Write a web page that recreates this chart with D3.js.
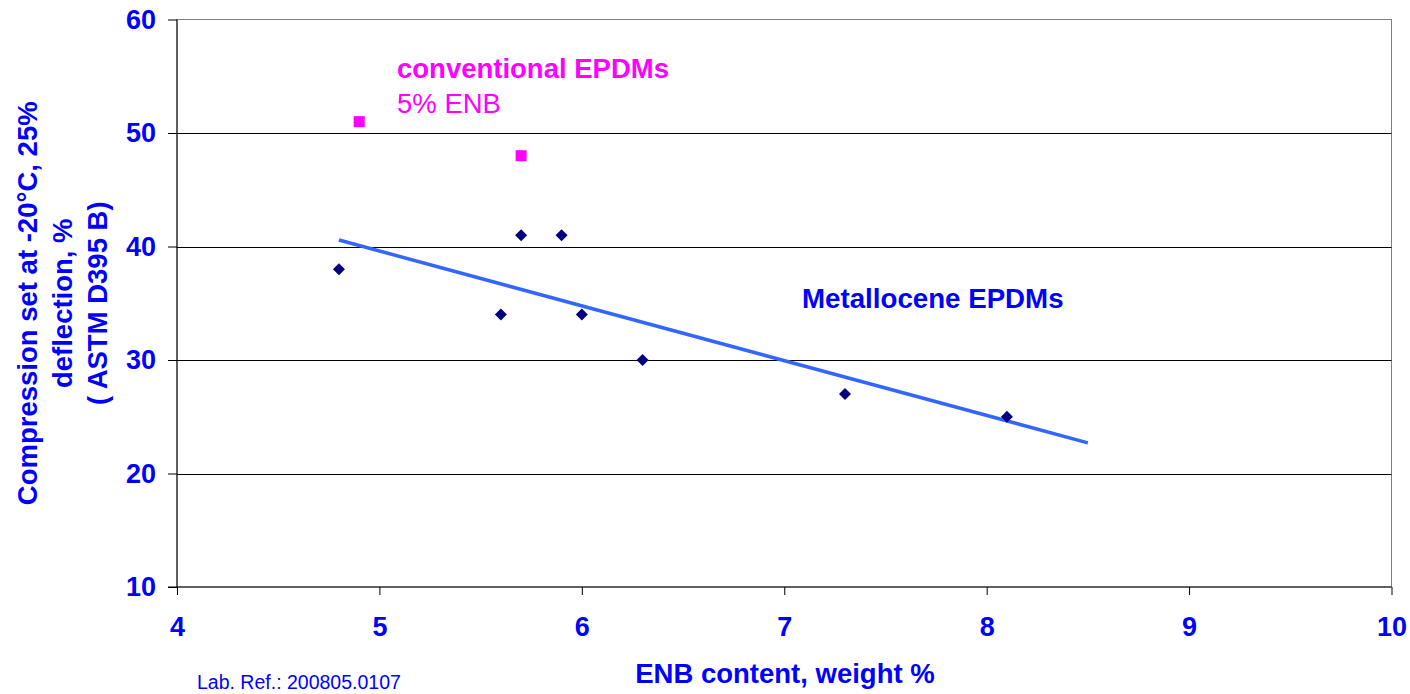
<!DOCTYPE html>
<html>
<head>
<meta charset="utf-8">
<script src="https://cdn.jsdelivr.net/npm/d3@7"></script>
<style>
  html, body { margin: 0; padding: 0; background: #fff; }
  svg { display: block; font-family: "Liberation Sans", Arial, sans-serif; }
</style>
</head>
<body>
<svg id="chart" width="1410" height="694"></svg>
<script>
// ---- data ----
const metalloceneX = [4.8, 5.6, 5.7, 5.9, 6.0, 6.3, 7.3, 8.1];
const metalloceneY = [38, 34, 41, 41, 34, 30, 27, 25];
const conventionalX = [4.9, 5.7];
const conventionalY = [51, 48];
const trendX = [4.8, 8.5];
const trendY = [40.57, 22.70];
const xTicks = [4, 5, 6, 7, 8, 9, 10];
const yTicks = [10, 20, 30, 40, 50, 60];
const yTitleLines = ["Compression set at -20°C, 25%", "deflection, %", "( ASTM D395 B)"];
const xTitle = "ENB content, weight %";
const labRef = "Lab. Ref.: 200805.0107";
const noteConv1 = "conventional EPDMs";
const noteConv2 = "5% ENB";
const noteMet = "Metallocene EPDMs";

// ---- layout ----
const svg = d3.select("#chart");
const pLeft = 177, pRight = 1391.5, pTop = 19.5, pBottom = 587;
const x = d3.scaleLinear().domain([4, 10]).range([pLeft, pRight]);
const y = d3.scaleLinear().domain([10, 60]).range([pBottom, pTop]);
const blue = "#0000FF", navy = "#000080", magenta = "#FF00FF", trendColor = "#3366FF";

// plot border (gray top/right)
svg.append("rect")
  .attr("x", pLeft).attr("y", pTop)
  .attr("width", pRight - pLeft).attr("height", pBottom - pTop)
  .attr("fill", "none").attr("stroke", "#808080").attr("stroke-width", 1);

// gridlines
svg.append("g").selectAll("line")
  .data(yTicks.filter(d => d > 10 && d < 60))
  .join("line")
  .attr("x1", pLeft).attr("x2", pRight)
  .attr("y1", d => Math.round(y(d)) + 0.5).attr("y2", d => Math.round(y(d)) + 0.5)
  .attr("stroke", "#000").attr("stroke-width", 1);

// axes
const yAxis = d3.axisLeft(y).tickValues(yTicks).tickSize(9).tickPadding(12).tickFormat(d3.format("d"));
const gy = svg.append("g").attr("transform", `translate(${pLeft},0)`).call(yAxis);
const xAxis = d3.axisBottom(x).tickValues(xTicks).tickSize(8).tickPadding(22).tickFormat(d3.format("d"));
const gx = svg.append("g").attr("transform", `translate(0,${pBottom})`).call(xAxis);
[gx, gy].forEach(g => {
  g.select(".domain").attr("stroke", "#000").attr("stroke-width", 1);
  g.selectAll(".tick line").attr("stroke", "#000");
  g.selectAll(".tick text")
    .attr("fill", blue).attr("font-size", 27).attr("font-weight", "bold")
    .attr("font-family", "Liberation Sans, Arial, sans-serif");
});
gy.select(".domain").attr("d", `M0,${pTop}V${pBottom}`);
gx.select(".domain").attr("d", `M${pLeft - 9},0H${pRight}`);

// trend line
svg.append("path")
  .datum(trendX.map((d, i) => [d, trendY[i]]))
  .attr("d", d3.line().x(d => x(d[0])).y(d => y(d[1])))
  .attr("fill", "none").attr("stroke", trendColor).attr("stroke-width", 3.5);

// metallocene diamonds
const dsz = 6;
svg.append("g").selectAll("path")
  .data(metalloceneX.map((d, i) => [d, metalloceneY[i]]))
  .join("path")
  .attr("d", d => `M${x(d[0])},${y(d[1]) - dsz}L${x(d[0]) + dsz},${y(d[1])}L${x(d[0])},${y(d[1]) + dsz}L${x(d[0]) - dsz},${y(d[1])}Z`)
  .attr("fill", navy);

// conventional squares
const ssz = 11;
svg.append("g").selectAll("rect")
  .data(conventionalX.map((d, i) => [d, conventionalY[i]]))
  .join("rect")
  .attr("x", d => x(d[0]) - ssz / 2).attr("y", d => y(d[1]) - ssz / 2)
  .attr("width", ssz).attr("height", ssz)
  .attr("fill", magenta);

// annotations
svg.append("text").attr("x", 397).attr("y", 78)
  .attr("fill", magenta).attr("font-size", 27.5).attr("font-weight", "bold").text(noteConv1);
svg.append("text").attr("x", 397).attr("y", 113)
  .attr("fill", magenta).attr("font-size", 27.5).text(noteConv2);
svg.append("text").attr("x", 802).attr("y", 308)
  .attr("fill", blue).attr("font-size", 27.7).attr("font-weight", "bold").text(noteMet);

// x title
svg.append("text").attr("x", (633 + 937) / 2).attr("y", 683)
  .attr("text-anchor", "middle").attr("fill", blue)
  .attr("font-size", 27.5).attr("font-weight", "bold").text(xTitle);

// y title
const yt = svg.append("text")
  .attr("transform", `translate(37,${(pTop + pBottom) / 2}) rotate(-90)`)
  .attr("text-anchor", "middle").attr("fill", blue)
  .attr("font-size", 27.5).attr("font-weight", "bold");
yTitleLines.forEach((t, i) => {
  yt.append("tspan").attr("x", 0).attr("y", i * 35).text(t);
});

// lab ref
svg.append("text").attr("x", 197).attr("y", 689)
  .attr("fill", blue).attr("font-size", 19.5).text(labRef);
</script>
</body>
</html>
